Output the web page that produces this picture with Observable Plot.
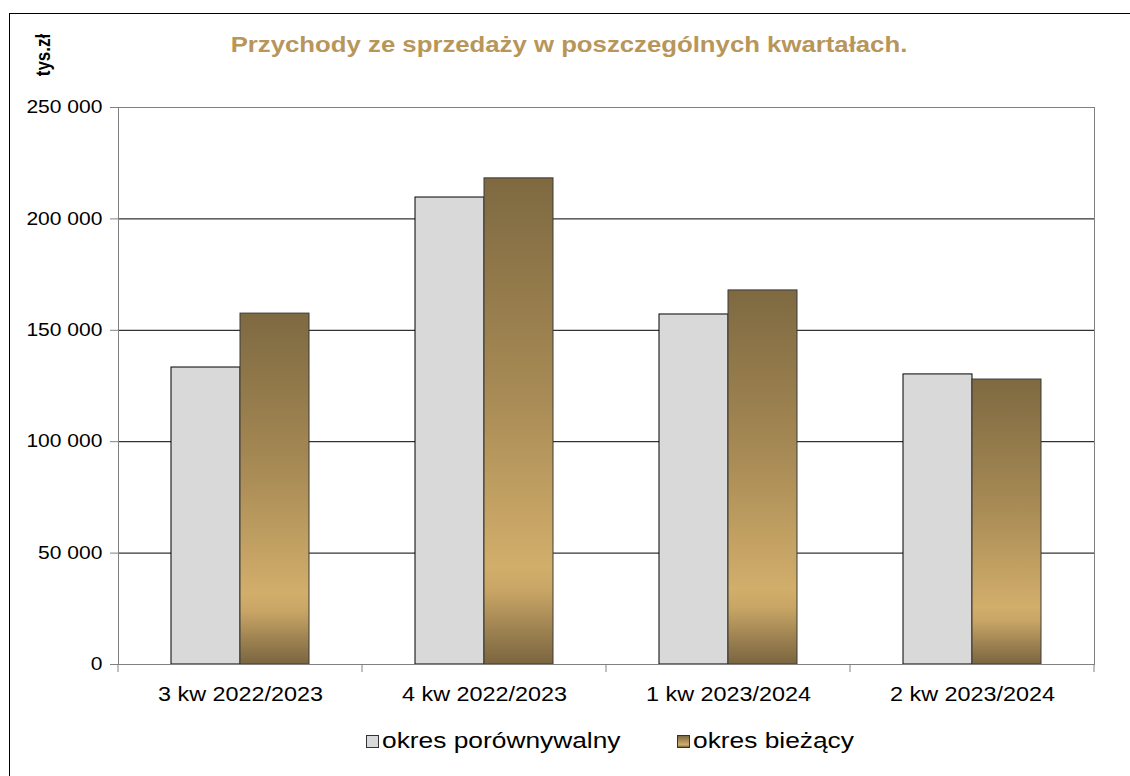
<!DOCTYPE html>
<html>
<head>
<meta charset="utf-8">
<script src="https://cdn.jsdelivr.net/npm/d3@7"></script>
<script src="https://cdn.jsdelivr.net/npm/@observablehq/plot@0.6"></script>
<style>
  html, body { margin: 0; padding: 0; background: #fff; overflow: hidden; }
  body { font-family: "Liberation Sans", Arial, sans-serif; }
  #wrap { position: relative; width: 1130px; height: 776px; overflow: hidden; }
  #border { position: absolute; left: 9px; top: 13px; width: 1200px; height: 900px; border: 1px solid #000; box-sizing: border-box; }
  #title { position: absolute; top: 34px; left: 569px; transform: translateX(-50%) scaleX(1.17); font-size: 22px; line-height: 22px; font-weight: bold; color: #b8965a; white-space: nowrap; }
  #unit { position: absolute; left: 44px; top: 55px; transform: translate(-50%, -50%) rotate(-90deg) scale(1, 1.17); font-size: 17px; font-weight: bold; color: #000; white-space: nowrap; }
  #chart { position: absolute; left: 0; top: 80px; }
  .leg { position: absolute; top: 728px; display: flex; align-items: center; font-size: 22.5px; line-height: 26px; color: #000; white-space: nowrap; }
  .leg span { display: inline-block; transform-origin: 0 50%; transform: scaleX(1.17); }
  .sw { width: 11px; height: 11px; border: 1px solid #333; margin-right: 3px; }
</style>
</head>
<body>
<svg width="0" height="0" style="position:absolute">
  <defs>
    <linearGradient id="gold" x1="0" y1="0" x2="0" y2="1">
      <stop offset="0" stop-color="#7e6941"/>
      <stop offset="0.45" stop-color="#a88b55"/>
      <stop offset="0.8" stop-color="#d2ae6b"/>
      <stop offset="0.85" stop-color="#c8a565"/>
      <stop offset="0.93" stop-color="#9d8251"/>
      <stop offset="1" stop-color="#7b6540"/>
    </linearGradient>
  </defs>
</svg>
<div id="wrap">
  <div id="border"></div>
  <div id="title">Przychody ze sprzedaży w poszczególnych kwartałach.</div>
  <div id="unit">tys.zł</div>
  <div id="chart"></div>
  <div class="leg" style="left:366px"><div class="sw" style="background:#d9d9d9"></div><span>okres porównywalny</span></div>
  <div class="leg" style="left:677px"><div class="sw" style="background:linear-gradient(#7e6941,#d2ae6b 80%,#7b6540)"></div><span>okres bieżący</span></div>
</div>
<script>
const quarters = ["3 kw 2022/2023", "4 kw 2022/2023", "1 kw 2023/2024", "2 kw 2023/2024"];
const series = ["okres porównywalny", "okres bieżący"];
const prevValues = [133300, 209600, 157100, 130200];
const currValues = [157500, 218200, 167900, 127900];
const yTicks = [0, 50000, 100000, 150000, 200000, 250000];
const gridTicks = [50000, 100000, 150000, 200000];

const data = [];
quarters.forEach((q, i) => {
  data.push({quarter: q, series: series[0], value: prevValues[i]});
  data.push({quarter: q, series: series[1], value: currValues[i]});
});

const fmt = d3.formatLocale({decimal: ",", thousands: " ", grouping: [3], currency: ["", ""]}).format(",");

const chart = Plot.plot({
  width: 1130,
  height: 640,
  marginTop: 27,
  marginBottom: 56,
  marginLeft: 116,
  marginRight: 35,
  style: {fontFamily: "Liberation Sans, Arial, sans-serif", background: "transparent"},
  fx: {domain: quarters, padding: 0, label: null},
  x: {domain: series, paddingInner: 0, paddingOuter: 0.748, axis: null},
  y: {domain: [0, 250000], label: null},
  marks: [
    Plot.gridY(gridTicks, {stroke: "#000", strokeOpacity: 1}),
    Plot.barY(data.filter(d => d.series === series[0]), {fx: "quarter", x: "series", y: "value", fill: "#d9d9d9", stroke: "#000", strokeWidth: 1}),
    Plot.barY(data.filter(d => d.series === series[1]), {fx: "quarter", x: "series", y: "value", fill: "url(#gold)", stroke: "#3a3a3a", strokeWidth: 1}),
    Plot.frame({stroke: "#808080", facet: "super"}),
    Plot.axisY(yTicks, {anchor: "left", tickSize: 8, tickPadding: 8, tickFormat: fmt, fontSize: 18, stroke: "#808080", fill: "#000", label: null}),
    Plot.axisFx({anchor: "bottom", tickSize: 0, tickPadding: 22, fontSize: 20, fill: "#000", label: null})
  ]
});

// boundary tick marks between categories, from the fx and y scales
const fxs = chart.scale("fx");
const ys = chart.scale("y");
const y0 = ys.apply(0);
const edges = quarters.map(q => fxs.apply(q));
edges.push(fxs.apply(quarters[quarters.length - 1]) + fxs.bandwidth);
d3.select(chart).append("g")
  .attr("stroke", "#808080")
  .selectAll("line").data(edges).join("line")
  .attr("x1", d => d).attr("x2", d => d)
  .attr("y1", y0).attr("y2", y0 + 8);

// widen glyphs horizontally around each label's anchor (the reference text is stretched)
d3.select(chart).selectAll("text").each(function () {
  const x = +(this.getAttribute("x") || 0);
  const t = this.getAttribute("transform") || "";
  this.setAttribute("transform", `${t} translate(${x},0) scale(1.17,1) translate(${-x},0)`);
});

document.getElementById("chart").appendChild(chart);
</script>
</body>
</html>
